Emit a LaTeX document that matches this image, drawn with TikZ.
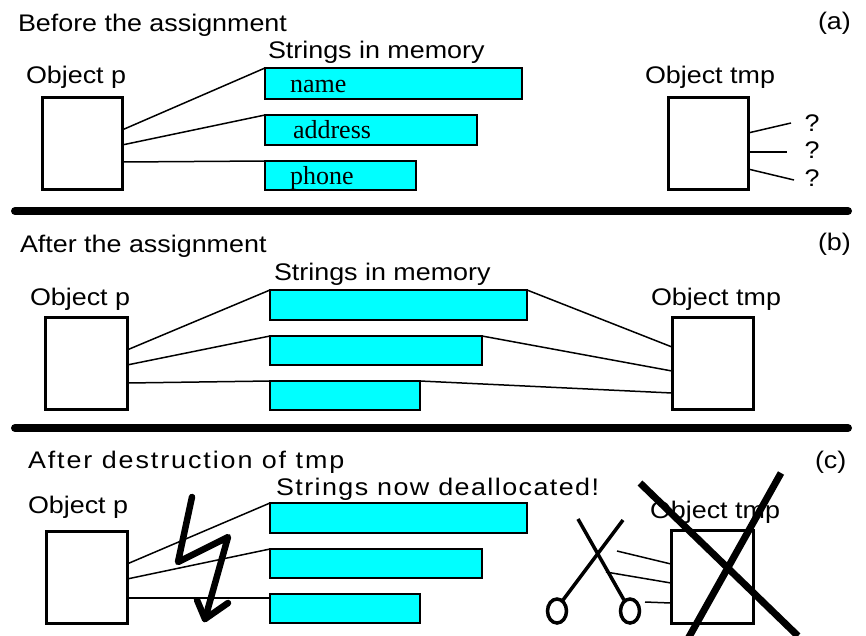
\documentclass[tikz,border=0pt]{standalone}
\usepackage{fontspec}
\newfontfamily\sansfam[FakeStretch=1.12]{Liberation Sans}
\newfontfamily\sanswide[FakeStretch=1.12,LetterSpace=6]{Liberation Sans}
\newfontfamily\sanswider[FakeStretch=1.12,LetterSpace=8]{Liberation Sans}
\newfontfamily\seriffam{Liberation Serif}
\newcommand\lblfont{\sansfam\fontsize{24pt}{28pt}\selectfont}
\newcommand\widelblfont{\sanswide\fontsize{24pt}{28pt}\selectfont}
\newcommand\widerlblfont{\sanswider\fontsize{24pt}{28pt}\selectfont}
\newcommand\serlblfont{\seriffam\fontsize{26pt}{30pt}\selectfont}
\definecolor{memcyan}{RGB}{0,255,255}
\tikzset{
  lbl/.style={font=\lblfont, anchor=base west, inner sep=0pt, outer sep=0pt},
  widelbl/.style={font=\widelblfont, anchor=base west, inner sep=0pt, outer sep=0pt},
  widerlbl/.style={font=\widerlblfont, anchor=base west, inner sep=0pt, outer sep=0pt},
  serlbl/.style={font=\serlblfont, anchor=base west, inner sep=0pt, outer sep=0pt},
  objbox/.style={draw, line width=3pt, anchor=north west, inner sep=0pt, outer sep=0pt, fill=white},
  strbox/.style={draw, fill=memcyan, line width=1.5pt, anchor=north west, inner sep=0pt, outer sep=0pt},
  link/.style={line width=1.5pt},
  divider/.style={line width=8pt, line cap=round},
  crossline/.style={line width=7pt},
  bolt/.style={line width=6.5pt, line join=round, line cap=round},
  sciss/.style={line width=3.5pt},
}
\begin{document}
\begin{tikzpicture}[x=1pt,y=-1pt]
\useasboundingbox (0,0) rectangle (866,635);
\clip (0,0) rectangle (866,635);
\fill[white] (0,0) rectangle (866,635);

% ---------- panel (a)
\node[lbl] (ta) at (18,31) {Before the assignment};
\node[lbl] (la) at (818,29) {(a)};
\node[lbl] (sa) at (268,58) {Strings in memory};
\node[lbl] (opa) at (26,83) {Object p};
\node[objbox, minimum width=80pt, minimum height=92pt] (pa) at (42,97) {};
\node[strbox, minimum width=257pt, minimum height=31pt] (ra1) at (265,68) {};
\node[strbox, minimum width=212pt, minimum height=30pt] (ra2) at (265,115) {};
\node[strbox, minimum width=151pt, minimum height=29pt] (ra3) at (265,161) {};
\node[serlbl] (na) at (290,92) {name};
\node[serlbl] (ad) at (293,138) {address};
\node[serlbl] (ph) at (290,184) {phone};
\node[lbl] (ota) at (645,83) {Object tmp};
\node[objbox, minimum width=80pt, minimum height=92pt] (tma) at (668,97) {};
\node[lbl, anchor=center] (q1) at (812,123) {?};
\node[lbl, anchor=center] (q2) at (812,150) {?};
\node[lbl, anchor=center] (q3) at (812,178) {?};
\coordinate (qe1) at (791,123);
\coordinate (qe2) at (787,152);
\coordinate (qe3) at (794,180);
\draw[link] ([yshift=-33pt]pa.north east) -- (ra1.north west);
\draw[link] ([yshift=-48pt]pa.north east) -- (ra2.north west);
\draw[link] ([yshift=-65pt]pa.north east) -- (ra3.north west);
\draw[link] ([yshift=-36pt]tma.north east) -- (qe1);
\draw[link] ([yshift=-55pt]tma.north east) -- (qe2);
\draw[link] ([yshift=-72pt]tma.north east) -- (qe3);
\draw[divider] (15,211) -- (848,211);

% ---------- panel (b)
\node[lbl] (tb) at (20,252) {After the assignment};
\node[lbl] (lb) at (818,250) {(b)};
\node[lbl] (sb) at (274,280) {Strings in memory};
\node[lbl] (opb) at (30,305) {Object p};
\node[lbl] (otb) at (651,305) {Object tmp};
\node[objbox, minimum width=82pt, minimum height=92pt] (pb) at (45,317) {};
\node[objbox, minimum width=81pt, minimum height=92pt] (tmb) at (672,317) {};
\node[strbox, minimum width=257pt, minimum height=30pt] (rb1) at (270,290) {};
\node[strbox, minimum width=212pt, minimum height=29pt] (rb2) at (270,336) {};
\node[strbox, minimum width=150pt, minimum height=29pt] (rb3) at (270,381) {};
\draw[link] ([yshift=-33pt]pb.north east) -- (rb1.north west);
\draw[link] ([yshift=-48pt]pb.north east) -- (rb2.north west);
\draw[link] ([yshift=-66pt]pb.north east) -- (rb3.north west);
\draw[link] (rb1.north east) -- ([yshift=-30pt]tmb.north west);
\draw[link] (rb2.north east) -- ([yshift=-54pt]tmb.north west);
\draw[link] (rb3.north east) -- ([yshift=-76pt]tmb.north west);
\draw[divider] (15,428) -- (848,428);

% ---------- panel (c)
\node[widerlbl] (tc) at (28,468) {After destruction of tmp};
\node[lbl] (lc) at (815,468) {(c)};
\node[widelbl] (sc) at (276,495) {Strings now deallocated!};
\node[lbl] (opc) at (28,513) {Object p};
\node[objbox, minimum width=81pt, minimum height=92pt] (pc) at (46,531) {};
\node[strbox, minimum width=257pt, minimum height=30pt] (rc1) at (270,503) {};
\node[strbox, minimum width=212pt, minimum height=29pt] (rc2) at (270,549) {};
\node[strbox, minimum width=150pt, minimum height=29pt] (rc3) at (270,594) {};
\draw[link] ([yshift=-33pt]pc.north east) -- (rc1.north west);
\draw[link] ([yshift=-48pt]pc.north east) -- (rc2.north west);
\draw[link] ([yshift=-67pt]pc.north east) -- ([yshift=-4pt]rc3.north west);
% lightning
\draw[bolt] (192,497) -- (178,562) -- (228,537) -- (205,619);
\draw[bolt] (197,600) -- (205,619) -- (228,603);
% object tmp crossed out
\node[lbl] (otc) at (650,518) {Object tmp};
\node[objbox, minimum width=82pt, minimum height=93pt] (tmc) at (671,530) {};
\coordinate (ce1) at (617,551);
\coordinate (ce2) at (606,572);
\coordinate (ce3) at (645,602);
\draw[link] (ce1) -- ([yshift=-34pt]tmc.north west);
\draw[link] (ce2) -- ([yshift=-53pt]tmc.north west);
\draw[link] (ce3) -- ([yshift=-73pt]tmc.north west);
% scissors
\draw[sciss] (578,519) -- (624,600);
\draw[sciss] (623,520) -- (563,600);
\draw[sciss] (557,611) ellipse [x radius=9.5pt, y radius=12pt];
\draw[sciss] (630,611) ellipse [x radius=9.5pt, y radius=12pt];
% big cross
\draw[crossline] (640,483) -- (798,636);
\draw[crossline] (781,473) -- (680,653);
\end{tikzpicture}
\end{document}
